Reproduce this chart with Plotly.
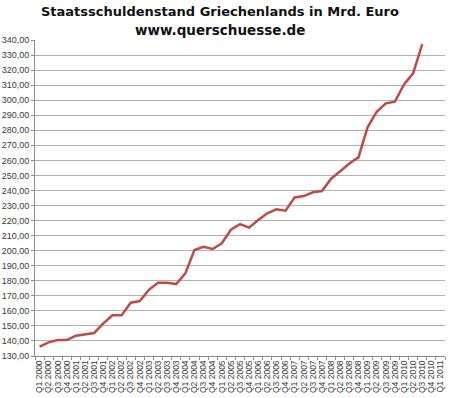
import plotly.graph_objects as go

years = list(range(2000, 2011))
categories = [f"Q{q} {y}" for y in years for q in range(1, 5)] + ["Q1 2011"]

debt_values = [
    136.2, 139.1, 140.6, 140.7, 143.5, 144.4, 145.3, 151.7, 157.0, 157.0,
    165.4, 166.5, 174.0, 178.7, 178.7, 177.8, 184.9, 200.4, 202.6, 201.1,
    204.9, 213.9, 217.6, 215.3, 220.4, 224.8, 227.5, 226.6, 235.4, 236.3,
    238.8, 239.6, 247.8, 252.8, 257.9, 262.0, 282.0, 292.3, 297.9, 299.0,
    310.5, 317.8, 337.3,
]

y_ticks = list(range(130, 341, 10))

title_line1 = "<b>Staatsschuldenstand Griechenlands in Mrd. Euro</b>"
title_line2 = "<b>www.querschuesse.de</b>"

W, H = 450, 398
ML, MR, MT, MB = 35, 5, 40, 42
plot_w = W - ML - MR
plot_h = H - MT - MB
LAB = "Liberation Sans"

fig = go.Figure()
fig.add_trace(go.Scatter(
    x=categories[:len(debt_values)],
    y=debt_values,
    mode="lines",
    line=dict(color="#BE4B48", width=2.5),
    hoverinfo="skip",
))

cx = (220 - ML) / plot_w
fig.update_layout(
    width=W, height=H,
    margin=dict(l=ML, r=MR, t=MT, b=MB, autoexpand=False),
    paper_bgcolor="white", plot_bgcolor="white",
    showlegend=False,
    separators=",.",
    font=dict(family=LAB, color="#404040"),
    annotations=[
        dict(text=title_line1,
             x=cx, xref="paper", xanchor="center",
             y=1 + (MT - 12) / plot_h, yref="paper", yanchor="middle", showarrow=False,
             font=dict(family="DejaVu Sans", size=13, color="#111111")),
        dict(text=title_line2,
             x=cx, xref="paper", xanchor="center",
             y=1 + (MT - 30) / plot_h, yref="paper", yanchor="middle", showarrow=False,
             font=dict(family="DejaVu Sans", size=13.5, color="#111111")),
    ],
)

fig.update_xaxes(
    type="category",
    categoryorder="array", categoryarray=categories,
    range=[-0.5, len(categories) - 0.5],
    tickmode="array", tickvals=categories, ticktext=categories,
    tickangle=-90,
    tickfont=dict(family=LAB, size=8.5, color="#3a3a3a"),
    showgrid=False,
    showline=True, linecolor="#8c8c8c", linewidth=1,
    ticks="outside", ticklen=3, tickcolor="#8c8c8c",
    tickson="boundaries",
    automargin=False,
    fixedrange=True,
)
fig.update_yaxes(
    range=[130, 340],
    tickvals=y_ticks,
    tickformat=".2f",
    tickfont=dict(family=LAB, size=9, color="#3a3a3a"),
    showgrid=True, gridcolor="#b3b3b3", gridwidth=1,
    showline=True, linecolor="#8c8c8c", linewidth=1,
    ticks="outside", ticklen=3, tickcolor="#8c8c8c",
    ticklabelstandoff=0,
    zeroline=False,
    automargin=False,
    fixedrange=True,
)

fig.write_html(
    "out.html",
    config={"displayModeBar": False},
    post_script="document.body.style.margin='0';document.body.style.overflow='hidden';",
)
